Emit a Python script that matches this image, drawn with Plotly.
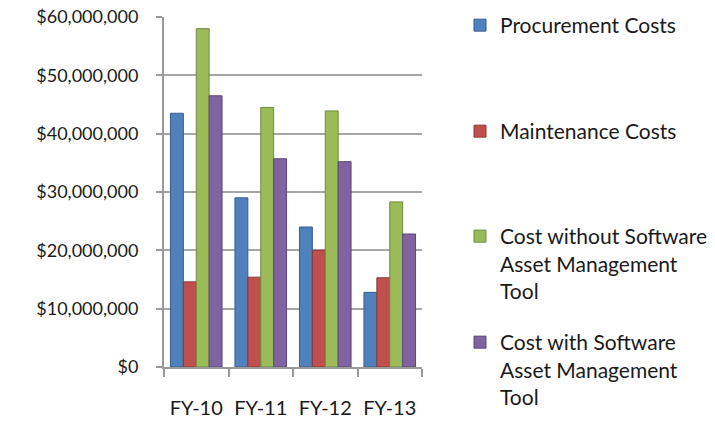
import plotly.graph_objects as go

categories = ["FY-10", "FY-11", "FY-12", "FY-13"]
procurement = [43.5e6, 29.0e6, 24.0e6, 12.8e6]
maintenance = [14.6e6, 15.4e6, 20.0e6, 15.3e6]
cost_without = [58.0e6, 44.5e6, 43.9e6, 28.3e6]
cost_with = [46.5e6, 35.7e6, 35.2e6, 22.8e6]
series_names = ["Procurement Costs", "Maintenance Costs",
                "Cost without Software<br>Asset Management<br>Tool",
                "Cost with Software<br>Asset Management<br>Tool"]
colors = ["#4F81BD", "#C0504D", "#9BBB59", "#8064A2"]
edge = ["#385D8A", "#8C3836", "#71893F", "#5C4776"]
tick_vals = [0, 10e6, 20e6, 30e6, 40e6, 50e6, 60e6]
tick_text = ["$0", "$10,000,000", "$20,000,000", "$30,000,000",
             "$40,000,000", "$50,000,000", "$60,000,000"]

FONT = "Lato"
fig = go.Figure()
legend_ids = ["legend", "legend2", "legend3", "legend4"]
for i, vals in enumerate([procurement, maintenance, cost_without, cost_with]):
    fig.add_trace(go.Bar(
        x=categories, y=vals, name=series_names[i],
        marker=dict(color=colors[i], line=dict(color=edge[i], width=1)),
        legend=legend_ids[i]))

W, H = 715, 421
L, R, T, B = 164, 293, 17, 54

leg_common = dict(font=dict(family=FONT, size=21, color="#1a1a1a"),
                  bgcolor="rgba(0,0,0,0)", xanchor="left", yanchor="top",
                  xref="container", yref="container", valign="top",
                  itemclick=False, tracegroupgap=0)
legend_tops = [5, 111, 216, 322]
layout_legends = {}
for lid, top in zip(legend_ids, legend_tops):
    layout_legends[lid] = dict(x=460 / W, y=1 - top / H, **leg_common)

fig.update_layout(
    width=W, height=H,
    margin=dict(l=L, r=R, t=T, b=B, autoexpand=False),
    paper_bgcolor="white", plot_bgcolor="white",
    barmode="group", bargap=0.2, bargroupgap=0,
    showlegend=True,
    font=dict(family=FONT, size=20, color="#1a1a1a"),
    xaxis=dict(showline=True, linecolor="#9a9a9a", linewidth=2,
               ticks="outside", tickson="boundaries", ticklen=8,
               tickcolor="#9a9a9a", tickwidth=2,
               ticklabelstandoff=22, automargin=False,
               tickfont=dict(family=FONT, size=20, color="#1a1a1a")),
    yaxis=dict(range=[0, 60e6], tickvals=tick_vals, ticktext=tick_text,
               showgrid=True, gridcolor="#a6a6a6", gridwidth=2,
               showline=True, linecolor="#9a9a9a", linewidth=2,
               ticks="outside", ticklen=6, tickcolor="#9a9a9a", tickwidth=2,
               zeroline=False, ticklabelstandoff=14, automargin=False,
               tickfont=dict(family=FONT, size=18, color="#1a1a1a")),
    **layout_legends,
)
fig.write_html("out.html",
               config={"displayModeBar": False},
               post_script="document.body.style.margin='0';"
                           "document.body.style.overflow='hidden';")
